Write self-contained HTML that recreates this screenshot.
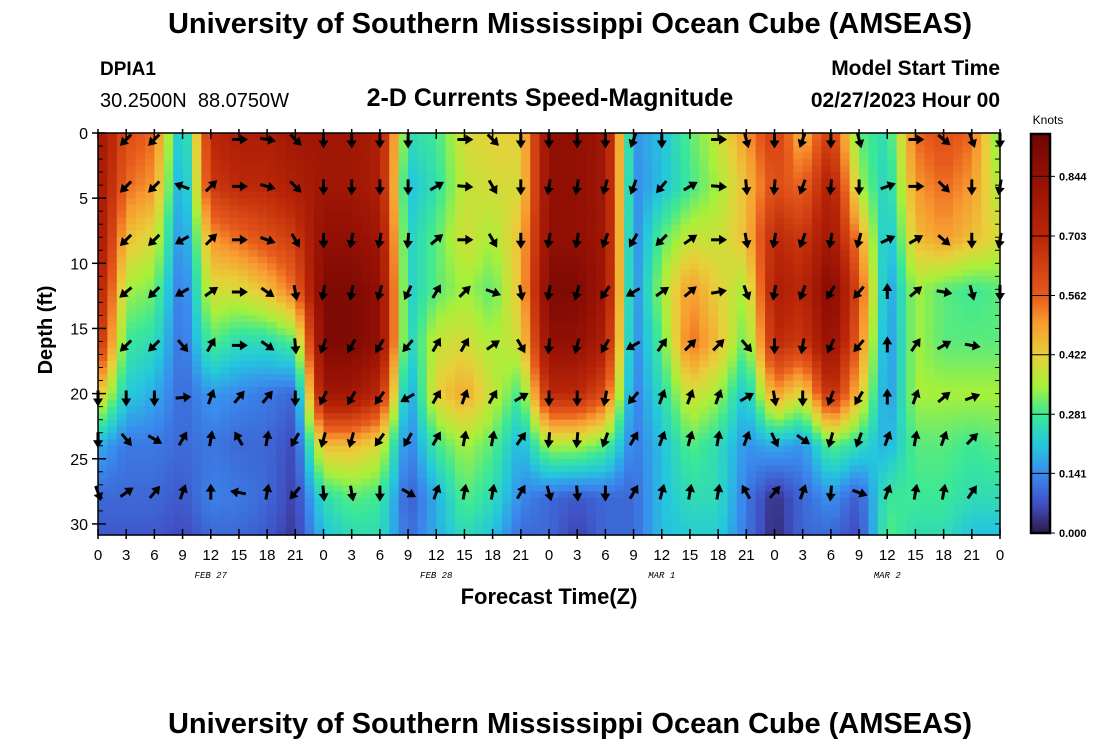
<!DOCTYPE html>
<html><head><meta charset="utf-8">
<style>
body{margin:0;background:#fff;width:1100px;height:750px;overflow:hidden;font-family:"Liberation Sans",sans-serif}
svg{display:block}
</style></head>
<body>
<svg id="chart" width="1100" height="750" xmlns="http://www.w3.org/2000/svg" font-family="Liberation Sans, sans-serif">
<text x="570" y="33" text-anchor="middle" font-size="29" font-weight="bold">University of Southern Mississippi Ocean Cube (AMSEAS)</text>
<text x="100" y="75" font-size="19" font-weight="bold">DPIA1</text>
<text x="100" y="107" font-size="20" xml:space="preserve">30.2500N  88.0750W</text>
<text x="550" y="106" text-anchor="middle" font-size="25" font-weight="bold">2-D Currents Speed-Magnitude</text>
<text x="1000" y="75" text-anchor="end" font-size="21" font-weight="bold">Model Start Time</text>
<text x="1000" y="107" text-anchor="end" font-size="21" font-weight="bold">02/27/2023 Hour 00</text>
<g id="heat"></g>
<g id="arrows"></g>
<g id="axes"></g>
<g id="cbar"></g>
<text transform="translate(52,330) rotate(-90)" text-anchor="middle" font-size="20" font-weight="bold">Depth (ft)</text>
<text x="549" y="604" text-anchor="middle" font-size="22" font-weight="bold">Forecast Time(Z)</text>
<text x="1048" y="124" text-anchor="middle" font-size="12">Knots</text>
<text x="570" y="733" text-anchor="middle" font-size="29" font-weight="bold">University of Southern Mississippi Ocean Cube (AMSEAS)</text>
</svg>
<script>
const hours=[0,3,6,9,12,15,18,21,24,27,30,33,36,39,42,45,48,51,54,57,60,63,66,69,72,75,78,81,84,87,90,93,96];
const depths=[0,4,8,12,16,20,24,28,31];
const speed=[
[0.8,0.8,0.8,0.75,0.7,0.45,0.18,0.1,0.08],
[0.6,0.55,0.45,0.35,0.28,0.22,0.12,0.1,0.08],
[0.55,0.5,0.4,0.32,0.25,0.18,0.12,0.1,0.08],
[0.16,0.14,0.12,0.1,0.1,0.1,0.1,0.08,0.06],
[0.7,0.65,0.5,0.4,0.3,0.16,0.12,0.13,0.1],
[0.75,0.7,0.55,0.4,0.25,0.14,0.1,0.12,0.1],
[0.75,0.7,0.6,0.45,0.25,0.12,0.1,0.1,0.08],
[0.8,0.75,0.65,0.55,0.3,0.1,0.06,0.05,0.04],
[0.8,0.8,0.85,0.9,0.9,0.8,0.45,0.25,0.2],
[0.8,0.8,0.85,0.9,0.9,0.8,0.45,0.3,0.25],
[0.75,0.75,0.8,0.85,0.85,0.7,0.4,0.28,0.25],
[0.25,0.2,0.22,0.22,0.22,0.15,0.12,0.08,0.1],
[0.28,0.26,0.3,0.3,0.38,0.42,0.28,0.18,0.18],
[0.4,0.38,0.4,0.35,0.4,0.48,0.35,0.3,0.25],
[0.42,0.4,0.35,0.3,0.35,0.38,0.3,0.25,0.2],
[0.42,0.4,0.45,0.45,0.4,0.28,0.18,0.14,0.1],
[0.85,0.85,0.85,0.9,0.85,0.7,0.35,0.1,0.1],
[0.85,0.85,0.85,0.9,0.85,0.7,0.35,0.08,0.05],
[0.8,0.8,0.8,0.8,0.75,0.6,0.3,0.1,0.1],
[0.15,0.14,0.13,0.13,0.13,0.12,0.12,0.1,0.1],
[0.2,0.2,0.3,0.35,0.3,0.25,0.2,0.2,0.2],
[0.3,0.28,0.38,0.5,0.55,0.4,0.3,0.25,0.22],
[0.38,0.35,0.38,0.42,0.45,0.35,0.25,0.25,0.22],
[0.5,0.45,0.45,0.35,0.3,0.2,0.15,0.12,0.12],
[0.65,0.6,0.7,0.75,0.7,0.5,0.18,0.03,0.02],
[0.45,0.55,0.65,0.7,0.65,0.4,0.15,0.1,0.1],
[0.65,0.75,0.8,0.9,0.85,0.7,0.3,0.15,0.1],
[0.3,0.35,0.5,0.6,0.55,0.45,0.25,0.08,0.06],
[0.25,0.22,0.18,0.15,0.14,0.14,0.18,0.28,0.3],
[0.55,0.5,0.45,0.35,0.35,0.35,0.3,0.28,0.25],
[0.6,0.55,0.5,0.3,0.3,0.35,0.3,0.28,0.25],
[0.55,0.5,0.45,0.28,0.3,0.35,0.28,0.25,0.2],
[0.3,0.35,0.4,0.3,0.3,0.35,0.3,0.25,0.2]];
const arrowDepths=[0.5,4.1,8.2,12.2,16.3,20.3,23.5,27.6];
const dirRow0=[null,225,225,null,null,90,100,135,180,180,180,180,null,90,135,180,180,180,180,200,180,null,90,165,180,200,180,165,null,90,130,160,180];
const dirRow1=[null,225,225,290,45,90,105,135,180,180,180,180,60,95,150,180,190,190,195,200,220,60,95,175,185,200,185,180,70,90,135,180,190];
const dirRow2=[null,225,225,240,45,90,110,150,180,190,190,185,50,90,150,180,190,190,200,210,225,55,90,170,190,200,190,195,65,60,130,180,190];
const dirRow3=[null,230,225,240,55,90,125,170,190,190,195,205,30,45,110,170,190,195,215,240,55,50,80,160,190,200,210,220,0,50,100,165,180];
const dirRow4=[null,225,225,140,30,90,125,175,200,210,210,220,30,30,55,150,185,195,210,240,35,45,45,140,180,190,205,220,0,35,60,100,null];
const dirRow5=[180,180,180,85,20,40,40,180,205,210,215,240,30,20,30,60,180,180,190,220,20,20,20,60,170,180,200,210,0,20,50,70,null];
const dirRow6=[180,140,120,30,10,330,10,210,195,195,215,210,30,10,10,35,185,185,200,30,20,15,10,20,155,125,195,200,20,10,20,45,null];
const dirRow7=[160,55,40,20,0,280,10,220,175,170,180,120,20,10,10,30,165,175,180,30,15,10,10,330,40,20,185,110,20,10,10,35,null];
const directions=[dirRow0,dirRow1,dirRow2,dirRow3,dirRow4,dirRow5,dirRow6,dirRow7];
const yTicks=[0,5,10,15,20,25,30];
const xTickLabels=["0","3","6","9","12","15","18","21","0","3","6","9","12","15","18","21","0","3","6","9","12","15","18","21","0","3","6","9","12","15","18","21","0"];
const dayLabels=["FEB 27","FEB 28","MAR 1","MAR 2"];
const cbTicks=[0.000,0.141,0.281,0.422,0.562,0.703,0.844];

const NS="http://www.w3.org/2000/svg";
const X0=98,X1=1000,Y0=133,Y1=535;
const xs=h=>X0+(h-0)/96*(X1-X0);
const ys=d=>Y0+d*13.03;
const stops=[[0,[44,24,70]],[0.07,[64,80,196]],[0.141,[58,138,238]],[0.21,[36,200,220]],[0.281,[60,232,150]],[0.35,[168,240,58]],[0.422,[232,208,58]],[0.5,[248,154,48]],[0.562,[232,92,28]],[0.703,[186,38,8]],[0.844,[148,16,4]],[0.95,[108,6,4]]];
function color(v){
 if(v<=stops[0][0])return `rgb(${stops[0][1]})`;
 for(let i=1;i<stops.length;i++){if(v<=stops[i][0]){const a=stops[i-1],b=stops[i],t=(v-a[0])/(b[0]-a[0]);
  return `rgb(${a[1].map((c,k)=>Math.round(c+(b[1][k]-c)*t)).join(',')})`;}}
 return `rgb(${stops[stops.length-1][1]})`;}
function interp(arr,val){for(let i=0;i<arr.length-1;i++){if(val<=arr[i+1])return [i,(val-arr[i])/(arr[i+1]-arr[i])];}return [arr.length-2,1];}
function mk(tag,attrs,parent){const e=document.createElementNS(NS,tag);for(const k in attrs)e.setAttribute(k,attrs[k]);parent.appendChild(e);return e;}
const heat=document.getElementById('heat');
const dh=1,dd=0.5;
for(let h=0;h<96;h+=dh){for(let d=0;d<31;d+=dd){
 const hc=Math.min(96,h+dh/2),dc=Math.min(31,d+dd/2);
 const [i,ti]=interp(hours,hc),[j,tj]=interp(depths,dc);
 const v=speed[i][j]*(1-ti)*(1-tj)+speed[i+1][j]*ti*(1-tj)+speed[i][j+1]*(1-ti)*tj+speed[i+1][j+1]*ti*tj;
 const r=mk('rect',{x:xs(h).toFixed(2),y:ys(d).toFixed(2),width:(xs(h+dh)-xs(h)+0.6).toFixed(2),height:(Math.min(Y1,ys(d+dd))-ys(d)+0.6).toFixed(2),fill:color(v)},heat);
 
 
}}
const ag=document.getElementById('arrows');
directions.forEach((row,ri)=>{row.forEach((deg,ci)=>{
 if(deg===null)return;
 const cx=xs(hours[ci]),cy=ys(arrowDepths[ri]);
 const g=mk('g',{transform:`translate(${cx.toFixed(1)},${cy.toFixed(1)}) rotate(${deg})`},ag);
 
 
 mk('line',{x1:0,y1:7,x2:0,y2:-3,stroke:'#000','stroke-width':3},g);
 mk('polygon',{points:'0,-9 -5,-1 5,-1',fill:'#000'},g);
});});
const ax=document.getElementById('axes');
mk('rect',{x:X0,y:Y0,width:X1-X0,height:Y1-Y0,fill:'none',stroke:'#000','stroke-width':1.5},ax);
for(let d=1;d<=30;d++){const y=ys(d);mk('line',{x1:X0,x2:X0+5,y1:y,y2:y,stroke:'#000'},ax);mk('line',{x1:X1,x2:X1-5,y1:y,y2:y,stroke:'#000'},ax);}
yTicks.forEach(t=>{const y=ys(t);mk('line',{x1:X0-6,x2:X0+8,y1:y,y2:y,stroke:'#000','stroke-width':1.5},ax);
 const tx=mk('text',{x:X0-10,y:y+6,'text-anchor':'end','font-size':16},ax);tx.textContent=t;
 
 });
hours.forEach((h,i)=>{const x=xs(h);
 mk('line',{x1:x,x2:x,y1:Y0-4,y2:Y0+6,stroke:'#000','stroke-width':1.5},ax);
 mk('line',{x1:x,x2:x,y1:Y1-6,y2:Y1+4,stroke:'#000','stroke-width':1.5},ax);
 const tx=mk('text',{x:x,y:Y1+25,'text-anchor':'middle','font-size':15},ax);tx.textContent=xTickLabels[i];
 
 });
dayLabels.forEach((l,i)=>{const tx=mk('text',{x:xs(12+24*i),y:Y1+43,'text-anchor':'middle','font-size':9,'font-style':'italic','font-family':'Liberation Mono, monospace'},ax);tx.textContent=l;
 
 });
const cb=document.getElementById('cbar');
const CX=1031,CW=19,cy=v=>533-v*422.5;
for(let v=0;v<0.944;v+=0.005){mk('rect',{x:CX,y:cy(v+0.005),width:CW,height:422.5*0.005+0.6,fill:color(v+0.0025)},cb);}
mk('rect',{x:CX,y:134,width:CW,height:399,fill:'none',stroke:'#000','stroke-width':2.5},cb);
cbTicks.forEach(t=>{const y=cy(t);mk('line',{x1:CX,x2:CX+CW+5,y1:y,y2:y,stroke:'#000'},cb);
 const tx=mk('text',{x:CX+CW+9,y:y+4,'font-size':11,'font-weight':'bold'},cb);tx.textContent=t.toFixed(3);
 
 });
</script>
</body></html>
